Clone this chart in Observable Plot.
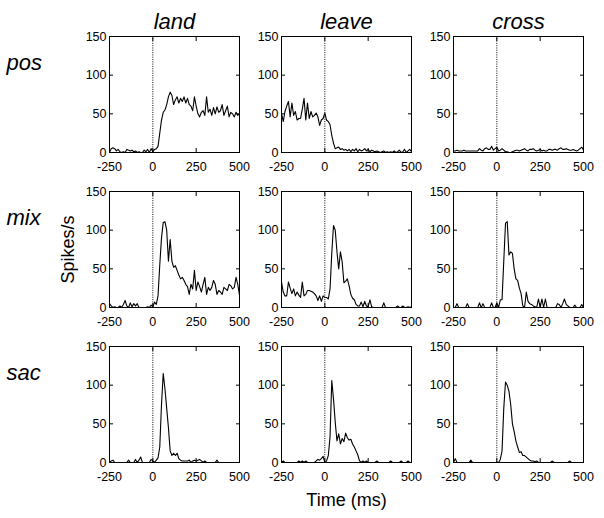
<!DOCTYPE html>
<html><head><meta charset="utf-8">
<script src="https://cdn.jsdelivr.net/npm/d3@7"></script>
<script src="https://cdn.jsdelivr.net/npm/@observablehq/plot@0.6"></script>
<style>
html,body{margin:0;padding:0;background:#fff;}
</style>
</head><body><div id="chart"></div>
<script>
const events = ["land", "leave", "cross"];
const types = ["pos", "mix", "sac"];
const xTicks = [-250, 0, 250, 500];
const yTicks = [0, 50, 100, 150];
const timeBins = [-250,-240,-230,-220,-210,-200,-190,-180,-170,-160,-150,-140,-130,-120,-110,-100,-90,-80,-70,-60,-50,-40,-30,-20,-10,
  0,10,20,30,40,50,60,70,80,90,100,110,120,130,140,150,160,170,180,190,200,210,220,230,240,250,260,270,280,290,300,
  310,320,330,340,350,360,370,380,390,400,410,420,430,440,450,460,470,480,490,500];

const landPos = [0,5,6,5,2,4,1,0,1,0,4,3,2,3,1,2,0,1,0,0,3,1,4,0,5,
  1,4,5,8,25,42,52,55,62,72,78, 74,62,68,72,64,70,66,72,64,70, 62,60,54,72,60,50,46,52,54,48,
  72,52,56,48,58,50,59,52,54,62, 48,54,60,46,52,50,46,52,48,50];
const leavePos = [51,40,53,60,66,46,64,48,53,42,44,44,56,70,42,64,44,53,46,48,51,46,35,42,44,
  51,42,40,36,22,12,5,6,7,4,5, 3,4,2,4,1,4,2,5,1,4, 2,3,5,2,4,1,3,2,1,2,
  1,0,1,2,0,1,0,1,0,2, 0,1,3,0,1,4,0,2,4,1];
const crossPos = [2,2,3,2,2,2,3,2,2,2,2,2,2,2,2,5,3,2,5,6,4,4,8,3,5,
  7,2,3,5,3,1,1,0,0,1,2, 3,3,2,3,4,5,3,2,4,4, 5,3,2,3,4,2,3,2,2,4,
  4,3,4,4,3,5,6,4,4,5, 4,3,3,4,3,2,3,5,7,3];
const landMix = [5,2,0,1,0,0,2,0,4,9,2,0,6,1,5,2,5,0,0,0,0,0,1,0,3,
  1,7,4,15,55,90,110,111,100,60,88, 60,52,54,48,42,37,39,35,30,27, 17,30,24,48,22,33,27,20,30,39,
  17,26,22,26,35,30,17,22,20,17, 26,24,22,30,28,24,26,39,30,16];
const leaveMix = [33,20,15,15,33,25,18,24,15,20,16,13,33,15,17,22,22,21,20,18,15,9,15,8,15,
  13,13,11,24,70,106,100,72,50,72,59, 32,34,37,28,17,12,10,4,2,2, 7,1,8,2,1,10,1,0,0,0,
  0,0,0,6,0,0,0,0,0,0, 0,2,0,0,2,0,0,1,0,1];
const crossMix = [0,0,5,0,0,0,0,0,5,0,0,0,0,0,0,6,0,5,0,0,0,0,6,0,0,
  6,0,10,10,60,109,111,68,72,70,50, 37,35,25,18,2,0,20,8,5,4, 2,1,0,11,0,11,0,11,0,0,
  0,0,0,0,5,4,0,5,11,4, 2,0,0,0,3,0,0,0,4,0];
const landSac = [0,2,3,0,0,0,0,0,0,0,0,3,0,0,0,4,0,3,7,0,0,0,0,0,4,
  2,0,3,6,20,75,115,95,70,45,15, 9,12,9,12,5,3,2,2,2,2, 3,0,2,3,2,3,4,2,0,2,
  0,0,0,0,0,0,3,0,0,0, 0,0,0,0,0,0,0,0,0,0];
const leaveSac = [0,2,0,0,0,0,0,0,0,0,2,0,2,0,2,0,0,0,0,0,2,4,3,5,8,
  0,2,9,33,106,82,52,28,37,24,31, 27,38,32,29,30,24,20,15,10,2, 0,2,0,2,0,0,0,0,0,2,
  0,0,0,0,0,0,0,2,0,0, 0,0,0,2,0,0,0,2,0,0];
const crossSac = [0,5,0,0,0,0,0,0,0,0,3,0,0,0,0,0,0,0,0,0,0,0,0,0,0,
  0,0,4,15,70,104,100,92,75,50,40, 28,20,13,14,9,9,7,5,3,2, 2,1,2,0,0,0,0,0,0,0,
  0,2,0,0,0,0,0,0,0,0, 0,2,0,0,0,0,0,0,0,0];

const series = {
  pos: {land: landPos, leave: leavePos, cross: crossPos},
  mix: {land: landMix, leave: leaveMix, cross: crossMix},
  sac: {land: landSac, leave: leaveSac, cross: crossSac}
};
const rows = [];
for (const ty of types) for (const ev of events) {
  series[ty][ev].forEach((v, i) => rows.push({fx: ev, fy: ty, t: timeBins[i], v}));
}

const font = "'Liberation Sans', Arial, Helvetica, sans-serif";
const chart = Plot.plot({
  width: 604, height: 518,
  marginLeft: 108, marginRight: 21, marginTop: 35, marginBottom: 56,
  style: {fontFamily: font, fontSize: "12.5px", color: "black", background: "white"},
  fx: {domain: events, paddingInner: 0.246, paddingOuter: 0, axis: null},
  fy: {domain: types, paddingInner: 0.254, paddingOuter: 0, axis: null},
  x: {domain: [-250, 500], axis: null},
  y: {domain: [0, 150], axis: null},
  marks: [
    Plot.axisFx({anchor: "top", tickSize: 0, tickPadding: 8, fontSize: 22, fontStyle: "italic", label: null}),
    Plot.text(types, {fy: d => d, fx: () => "land", text: d => d, frameAnchor: "top-left", dx: -103, dy: 33,
      textAnchor: "start", lineAnchor: "bottom", fontSize: 22, fontStyle: "italic"}),
    Plot.axisX({ticks: xTicks, anchor: "bottom", tickSize: -4, tickPadding: 14, facetAnchor: null, label: null, tickFormat: d => String(d)}),
    Plot.axisX({ticks: xTicks, anchor: "top", tickSize: -4, facetAnchor: null, label: null, tickFormat: () => ""}),
    Plot.axisY({ticks: yTicks, anchor: "left", tickSize: -4, tickPadding: 7, facetAnchor: null, label: null, tickFormat: d => String(d)}),
    Plot.axisY({ticks: yTicks, anchor: "right", tickSize: -4, facetAnchor: null, label: null, tickFormat: () => ""}),
    Plot.ruleX([0], {stroke: "black", strokeWidth: 1, strokeDasharray: "1,1.3"}),
    Plot.line(rows, {x: "t", y: "v", fx: "fx", fy: "fy", stroke: "black", strokeWidth: 1.1}),
    Plot.frame({stroke: "black", strokeWidth: 1}),
    Plot.text(["Spikes/s"], {fx: () => "land", fy: () => "mix", text: d => d, frameAnchor: "left", dx: -41,
      textAnchor: "middle", lineAnchor: "middle", rotate: -90, fontSize: 18}),
    Plot.text(["Time (ms)"], {fx: () => "leave", fy: () => "sac", text: d => d, frameAnchor: "bottom", dy: 43,
      textAnchor: "middle", lineAnchor: "bottom", fontSize: 18})
  ]
});
document.getElementById("chart").appendChild(chart);
</script>
</body></html>
